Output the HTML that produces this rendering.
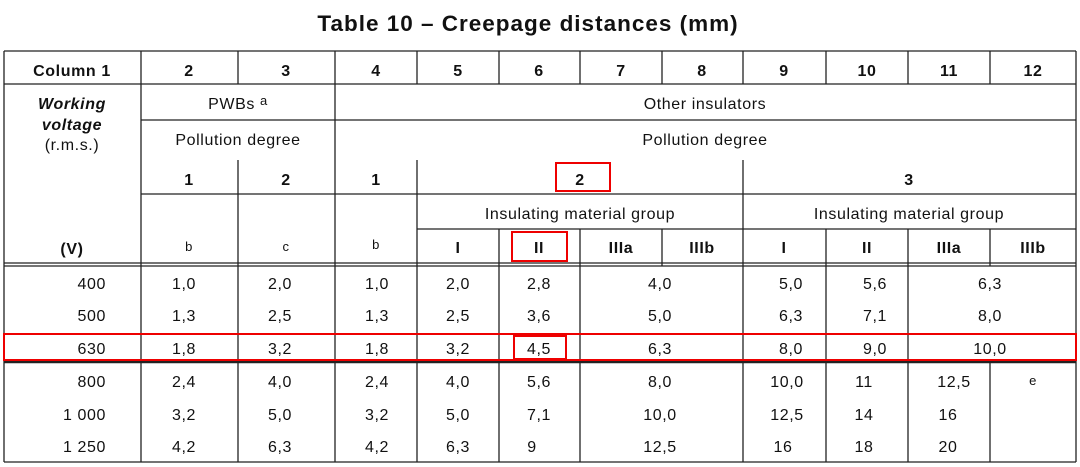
<!DOCTYPE html>
<html><head><meta charset="utf-8"><style>
html,body{margin:0;padding:0;background:#fff;}
svg{display:block;font-family:"Liberation Sans",Arial,sans-serif;}
text{fill:#111;font-size:16px;letter-spacing:0.6px;}
.b{font-weight:bold;}
.s{font-size:13px;}
</style></head><body>
<svg width="1080" height="467" viewBox="0 0 1080 467" xmlns="http://www.w3.org/2000/svg">
<text x="528" y="31" text-anchor="middle" class="b" style="font-size:22.5px;letter-spacing:1px">Table 10 – Creepage distances (mm)</text>
<g stroke="#222" stroke-width="1.3" fill="none">
<line x1="4" y1="51" x2="1076" y2="51"/>
<line x1="4" y1="84" x2="1076" y2="84"/>
<line x1="141" y1="120" x2="1076" y2="120"/>
<line x1="141" y1="194" x2="1076" y2="194"/>
<line x1="417" y1="229" x2="1076" y2="229"/>
<line x1="4" y1="263" x2="1076" y2="263"/>
<line x1="4" y1="266" x2="1076" y2="266"/>
<line x1="4" y1="362" x2="1076" y2="362" stroke-width="2.5"/>
<line x1="4" y1="462" x2="1076" y2="462"/>
<line x1="4" y1="51" x2="4" y2="462"/>
<line x1="1076" y1="51" x2="1076" y2="462"/>
<line x1="141" y1="51" x2="141" y2="462"/>
<line x1="335" y1="51" x2="335" y2="462"/>
<line x1="238" y1="51" x2="238" y2="84"/><line x1="238" y1="160" x2="238" y2="462"/>
<line x1="417" y1="51" x2="417" y2="84"/><line x1="417" y1="160" x2="417" y2="462"/>
<line x1="743" y1="51" x2="743" y2="84"/><line x1="743" y1="160" x2="743" y2="462"/>
<line x1="499" y1="51" x2="499" y2="84"/><line x1="499" y1="229" x2="499" y2="462"/>
<line x1="580" y1="51" x2="580" y2="84"/><line x1="580" y1="229" x2="580" y2="462"/>
<line x1="662" y1="51" x2="662" y2="84"/><line x1="662" y1="229" x2="662" y2="266"/>
<line x1="826" y1="51" x2="826" y2="84"/><line x1="826" y1="229" x2="826" y2="462"/>
<line x1="908" y1="51" x2="908" y2="84"/><line x1="908" y1="229" x2="908" y2="462"/>
<line x1="990" y1="51" x2="990" y2="84"/><line x1="990" y1="229" x2="990" y2="266"/><line x1="990" y1="362" x2="990" y2="462"/>
</g>
<g stroke="#e00" stroke-width="2" fill="none">
<rect x="4" y="334" width="1072" height="26"/>
<rect x="556" y="163" width="54" height="28"/>
<rect x="512" y="232" width="55" height="29"/>
<rect x="514" y="336" width="52" height="23"/>
</g>
<g text-anchor="middle">
<text x="72" y="76" class="b">Column 1</text>
<text x="189" y="76" class="b">2</text><text x="286" y="76" class="b">3</text><text x="376" y="76" class="b">4</text>
<text x="458" y="76" class="b">5</text><text x="539" y="76" class="b">6</text><text x="621" y="76" class="b">7</text>
<text x="702" y="76" class="b">8</text><text x="784" y="76" class="b">9</text><text x="867" y="76" class="b">10</text>
<text x="949" y="76" class="b">11</text><text x="1033" y="76" class="b">12</text>
<text x="72" y="109" class="b" font-style="italic">Working</text>
<text x="72" y="130" class="b" font-style="italic">voltage</text>
<text x="72" y="150">(r.m.s.)</text>
<text x="72" y="254" class="b">(V)</text>
<text x="238" y="109">PWBs <tspan class="s" dy="-4">a</tspan></text>
<text x="238" y="145">Pollution degree</text>
<text x="705" y="109">Other insulators</text>
<text x="705" y="145">Pollution degree</text>
<text x="189" y="185" class="b">1</text><text x="286" y="185" class="b">2</text><text x="376" y="185" class="b">1</text>
<text x="580" y="185" class="b">2</text><text x="909" y="185" class="b">3</text>
<text x="580" y="219">Insulating material group</text>
<text x="909" y="219">Insulating material group</text>
<text x="189" y="251" class="s">b</text><text x="286" y="251" class="s">c</text><text x="376" y="249" class="s">b</text>
<text x="458" y="253" class="b">I</text><text x="539" y="253" class="b">II</text><text x="621" y="253" class="b">IIIa</text><text x="702" y="253" class="b">IIIb</text>
<text x="784" y="253" class="b">I</text><text x="867" y="253" class="b">II</text><text x="949" y="253" class="b">IIIa</text><text x="1033" y="253" class="b">IIIb</text>
</g>
<g text-anchor="end">
<text x="106" y="289">400</text><text x="106" y="321">500</text><text x="106" y="354">630</text>
<text x="106" y="387">800</text><text x="106" y="420">1 000</text><text x="106" y="452">1 250</text>
</g>
<g text-anchor="middle">
<text x="184" y="289">1,0</text><text x="280" y="289">2,0</text><text x="377" y="289">1,0</text><text x="458" y="289">2,0</text><text x="539" y="289">2,8</text><text x="660" y="289">4,0</text><text x="791" y="289">5,0</text><text x="875" y="289">5,6</text><text x="990" y="289">6,3</text>
<text x="184" y="321">1,3</text><text x="280" y="321">2,5</text><text x="377" y="321">1,3</text><text x="458" y="321">2,5</text><text x="539" y="321">3,6</text><text x="660" y="321">5,0</text><text x="791" y="321">6,3</text><text x="875" y="321">7,1</text><text x="990" y="321">8,0</text>
<text x="184" y="354">1,8</text><text x="280" y="354">3,2</text><text x="377" y="354">1,8</text><text x="458" y="354">3,2</text><text x="539" y="354">4,5</text><text x="660" y="354">6,3</text><text x="791" y="354">8,0</text><text x="875" y="354">9,0</text><text x="990" y="354">10,0</text>
<text x="184" y="387">2,4</text><text x="280" y="387">4,0</text><text x="377" y="387">2,4</text><text x="458" y="387">4,0</text><text x="539" y="387">5,6</text><text x="660" y="387">8,0</text><text x="787" y="387">10,0</text><text x="864" y="387">11</text><text x="954" y="387">12,5</text><text x="1033" y="385" class="s">e</text>
<text x="184" y="420">3,2</text><text x="280" y="420">5,0</text><text x="377" y="420">3,2</text><text x="458" y="420">5,0</text><text x="539" y="420">7,1</text><text x="660" y="420">10,0</text><text x="787" y="420">12,5</text><text x="864" y="420">14</text><text x="948" y="420">16</text>
<text x="184" y="452">4,2</text><text x="280" y="452">6,3</text><text x="377" y="452">4,2</text><text x="458" y="452">6,3</text><text x="532" y="452">9</text><text x="660" y="452">12,5</text><text x="783" y="452">16</text><text x="864" y="452">18</text><text x="948" y="452">20</text>
</g>
</svg>
</body></html>
